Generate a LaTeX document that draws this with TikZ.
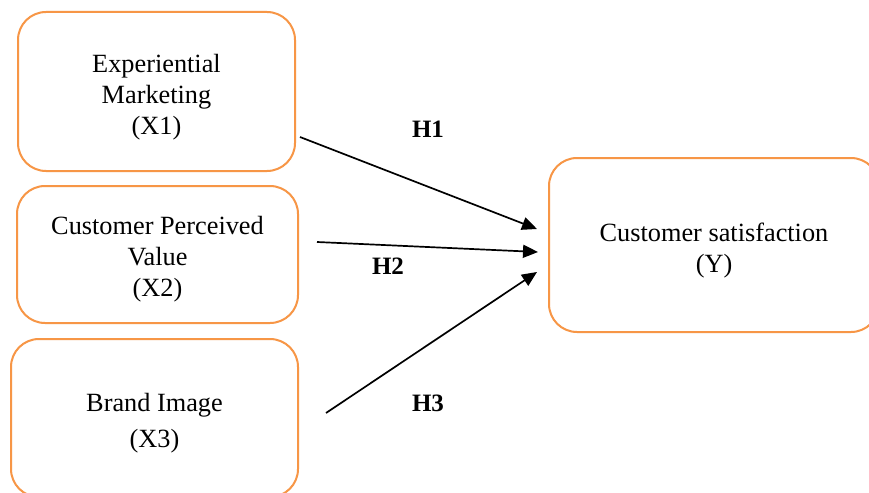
\documentclass[tikz,border=0pt]{standalone}
\usepackage{fontspec}
\setmainfont{Liberation Serif}
\usetikzlibrary{arrows.meta}
\definecolor{boxorange}{RGB}{247,150,70}
\tikzset{
  varbox/.style={draw=boxorange, line width=2pt, rounded corners=28pt, inner sep=0pt},
  vartext/.style={align=center, inner sep=0pt, font=\fontsize{26.3}{31}\selectfont},
  hlabel/.style={font=\fontsize{25}{30}\selectfont\bfseries, inner sep=0pt},
  path/.style={draw=black, line width=1.7pt, -{Triangle[length=15pt,width=13pt]}}
}
\begin{document}
\begin{tikzpicture}[x=1pt,y=-1pt]
\useasboundingbox (0,0) rectangle (869,492);
\fill[white] (0,0) rectangle (869,492);
\begin{scope}
\clip (0,0) rectangle (869,492);
\node[varbox, minimum width=277pt, minimum height=159pt] (x1) at (156.5,91.5) {};
\node[varbox, minimum width=281pt, minimum height=137pt] (x2) at (157.5,254.5) {};
\node[varbox, minimum width=287pt, minimum height=158pt] (x3) at (154.5,418) {};
\node[varbox, minimum width=330pt, minimum height=174pt] (y) at (714,245) {};
\end{scope}
\node[vartext] (x1t) at (156.5,97) {Experiential\\Marketing\\(X1)};
\node[vartext] (x2t) at (157.5,259) {Customer Perceived\\Value\\(X2)};
\node[vartext] (x3t) at (154.5,423) {Brand Image\\[5pt](X3)};
\node[vartext] (yt) at (714,250.5) {Customer satisfaction\\(Y)};
\coordinate (s1) at (300,137);
\coordinate (s2) at (317,242);
\coordinate (s3) at (326,413);
\coordinate (t1) at (537,229);
\coordinate (t2) at (538,252);
\coordinate (t3) at (537,272);
\draw[path] (s1) -- (t1);
\draw[path] (s2) -- (t2);
\draw[path] (s3) -- (t3);
\node[hlabel] (h1) at (428,129) {H1};
\node[hlabel] (h2) at (388,266) {H2};
\node[hlabel] (h3) at (428,403) {H3};
\end{tikzpicture}
\end{document}
